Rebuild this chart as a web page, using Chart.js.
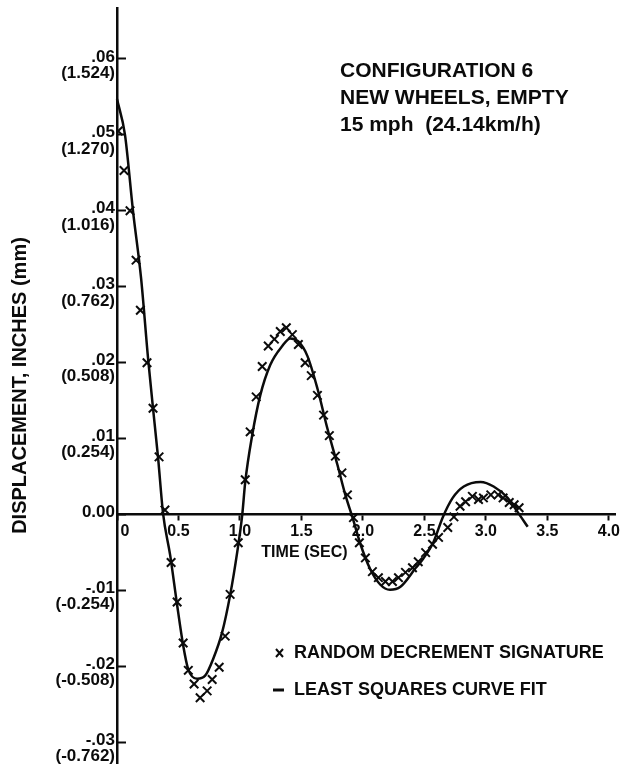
<!DOCTYPE html>
<html>
<head>
<meta charset="utf-8">
<script src="https://cdn.jsdelivr.net/npm/chart.js@4.4.1/dist/chart.umd.min.js"></script>
<style>
  html, body { margin: 0; padding: 0; background: #fff; }
  #wrap { width: 630px; height: 771px; position: relative; }
</style>
</head>
<body>
<div id="wrap"><canvas id="decay-chart"></canvas></div>
<script>
// random decrement signature (x marks)
const sigT = [0.01, 0.057, 0.106, 0.155, 0.19, 0.244, 0.293, 0.342, 0.39, 0.44, 0.489, 0.538, 0.58, 0.627, 0.676, 0.733, 0.774, 0.831, 0.88, 0.92, 0.986,
  1.043, 1.083, 1.132, 1.181, 1.23, 1.28, 1.328, 1.377, 1.426, 1.475, 1.53, 1.58, 1.63, 1.68, 1.727, 1.776, 1.829, 1.874, 1.923, 1.971,
  2.02, 2.077, 2.126, 2.183, 2.24, 2.289, 2.346, 2.403, 2.45, 2.51, 2.566, 2.615, 2.69, 2.74, 2.79, 2.835, 2.89, 2.94, 2.98,
  3.04, 3.1, 3.14, 3.19, 3.23, 3.27];
const sigY = [0.0505, 0.0453, 0.04, 0.0335, 0.0269, 0.02, 0.014, 0.0076, 0.0006, -0.0063, -0.0115, -0.0169, -0.0205, -0.0223, -0.0241, -0.0232, -0.0217, -0.0201, -0.016, -0.0105, -0.0037,
  0.0046, 0.0109, 0.0155, 0.0195, 0.0222, 0.0231, 0.0241, 0.0246, 0.0237, 0.0224, 0.02, 0.0183, 0.0157, 0.0131, 0.0104, 0.0077, 0.0055, 0.0026, -0.0004, -0.0037,
  -0.0057, -0.0075, -0.0083, -0.0088, -0.0088, -0.0083, -0.0076, -0.007, -0.0062, -0.005, -0.0039, -0.003, -0.0017, -0.0003, 0.0011, 0.0017, 0.0024, 0.002, 0.0022,
  0.0026, 0.0026, 0.0022, 0.0016, 0.0013, 0.0009];

// least squares curve fit (solid line)
const fitT = [0, 0.065, 0.13, 0.196, 0.253, 0.293, 0.334, 0.375, 0.432, 0.489, 0.538, 0.578, 0.652, 0.717, 0.782, 0.855, 0.92, 0.978, 1.018,
  1.043, 1.1, 1.165, 1.246, 1.344, 1.41, 1.475, 1.548, 1.63, 1.71, 1.792, 1.857, 1.914, 1.98, 2.06, 2.14, 2.22, 2.305, 2.43, 2.49,
  2.574, 2.648, 2.73, 2.82, 2.957, 3.063, 3.177, 3.26, 3.34];
const fitY = [0.0547, 0.05, 0.04, 0.0311, 0.0205, 0.014, 0.0075, 0.0001, -0.0053, -0.0119, -0.0172, -0.0203, -0.0216, -0.0212, -0.019, -0.0155, -0.0106, -0.0049, -0.0001,
  0.0043, 0.0105, 0.0157, 0.0197, 0.0222, 0.0232, 0.0228, 0.0209, 0.0166, 0.0114, 0.0066, 0.0026, -0.0003, -0.0039, -0.0072, -0.0092, -0.0099, -0.0095, -0.007, -0.0058,
  -0.0036, -0.0004, 0.0022, 0.0037, 0.0043, 0.0037, 0.0022, 0.0003, -0.0016];

// axis ticks
const xTicks = [0, 0.5, 1.0, 1.5, 2.0, 2.5, 3.0, 3.5, 4.0];
const xTickLabels = ["0", "0.5", "1.0", "1.5", "2.0", "2.5", "3.0", "3.5", "4.0"];
const yTicks = [-0.03, -0.02, -0.01, 0, 0.01, 0.02, 0.03, 0.04, 0.05, 0.06];
const yTickInches = ["-.03", "-.02", "-.01", "0.00", ".01", ".02", ".03", ".04", ".05", ".06"];
const yTickMm = ["(-0.762)", "(-0.508)", "(-0.254)", "", "(0.254)", "(0.508)", "(0.762)", "(1.016)", "(1.270)", "(1.524)"];

const configNote = ["CONFIGURATION 6", "NEW WHEELS, EMPTY", "15 mph  (24.14km/h)"];
const sigLabel = "RANDOM DECREMENT SIGNATURE";
const fitLabel = "LEAST SQUARES CURVE FIT";

const FONT = '"Liberation Sans", Arial, sans-serif';
const INK = "#0b0b0b";

const textPlugin = {
  id: "textPlugin",
  afterDraw(chart) {
    const ctx = chart.ctx;
    const xs = chart.scales.x;
    const ys = chart.scales.y;
    ctx.save();
    ctx.fillStyle = INK;
    ctx.strokeStyle = INK;
    ctx.textBaseline = "middle";

    // note at top right
    ctx.font = "bold 21px " + FONT;
    ctx.textAlign = "left";
    configNote.forEach(function (s, i) {
      ctx.fillText(s, 340, 71 + i * 27);
    });

    // x axis title sits under the 1.5 tick
    ctx.font = "bold 16px " + FONT;
    ctx.textAlign = "center";
    ctx.fillText("TIME (SEC)", xs.getPixelForValue(1.5) + 3, ys.getPixelForValue(0) + 38);

    // legend
    ctx.font = "bold 18px " + FONT;
    ctx.textAlign = "left";
    ctx.fillText(sigLabel, 294, 653);
    ctx.fillText(fitLabel, 294, 690);
    ctx.lineWidth = 2;
    ctx.beginPath();
    ctx.moveTo(276, 649); ctx.lineTo(283, 657);
    ctx.moveTo(283, 649); ctx.lineTo(276, 657);
    ctx.stroke();
    ctx.lineWidth = 3;
    ctx.beginPath();
    ctx.moveTo(273, 690); ctx.lineTo(284, 690);
    ctx.stroke();
    ctx.restore();
  },
};

const ctxEl = document.getElementById("decay-chart");
const decayChart = new Chart(ctxEl, {
  type: "scatter",
  data: {
    datasets: [
      {
        label: fitLabel,
        data: fitT.map((t, i) => ({ x: t, y: fitY[i] })),
        showLine: true,
        borderColor: INK,
        borderWidth: 2.5,
        pointRadius: 0,
        cubicInterpolationMode: "monotone",
        clip: false,
      },
      {
        label: sigLabel,
        data: sigT.map((t, i) => ({ x: t, y: sigY[i] })),
        showLine: false,
        pointStyle: "crossRot",
        pointRadius: 6,
        borderColor: INK,
        borderWidth: 2,
      },
    ],
  },
  options: {
    responsive: true,
    maintainAspectRatio: false,
    animation: false,
    layout: { padding: { left: 0, top: 8, right: 15, bottom: 0 } },
    plugins: {
      legend: { display: false },
      tooltip: { enabled: false },
    },
    scales: {
      x: {
        type: "linear",
        min: 0,
        max: 4.05,
        position: { y: 0 },
        afterBuildTicks: (s) => { s.ticks = xTicks.map((v) => ({ value: v })); },
        afterFit: (s) => { s.paddingLeft = 0; s.paddingRight = 0; },
        border: { display: true, color: INK, width: 2.5 },
        grid: { drawOnChartArea: false, drawTicks: true, tickLength: 5, tickWidth: 2, tickColor: INK },
        ticks: {
          padding: 2,
          color: INK,
          font: { family: FONT, size: 16, weight: "bold" },
          maxRotation: 0,
          autoSkip: false,
          callback: function (value, index) {
            // the 0 label sits to the right of the y axis line
            return index === 0 ? "\u2002\u2002" + xTickLabels[index] : xTickLabels[index];
          },
        },
      },
      y: {
        type: "linear",
        min: -0.0327,
        max: 0.0667,
        position: "left",
        afterBuildTicks: (s) => { s.ticks = yTicks.map((v) => ({ value: v })); },
        afterFit: (s) => { s.width = 117; s.paddingTop = 0; s.paddingBottom = 0; },
        border: { display: true, color: INK, width: 2.5 },
        grid: { drawOnChartArea: false, drawTicks: true, tickLength: -9, tickWidth: 2, tickColor: INK },
        ticks: {
          padding: 11,
          labelOffset: 6,
          color: INK,
          autoSkip: false,
          font: { family: FONT, size: 17, weight: "bold", lineHeight: 0.95 },
          callback: function (value, index) {
            return [yTickInches[index], yTickMm[index]];
          },
        },
        title: {
          display: true,
          text: "DISPLACEMENT, INCHES (mm)",
          color: INK,
          font: { family: FONT, size: 20, weight: "bold" },
          padding: { top: 8, bottom: 0 },
        },
      },
    },
  },
  plugins: [textPlugin],
});
</script>
</body>
</html>
